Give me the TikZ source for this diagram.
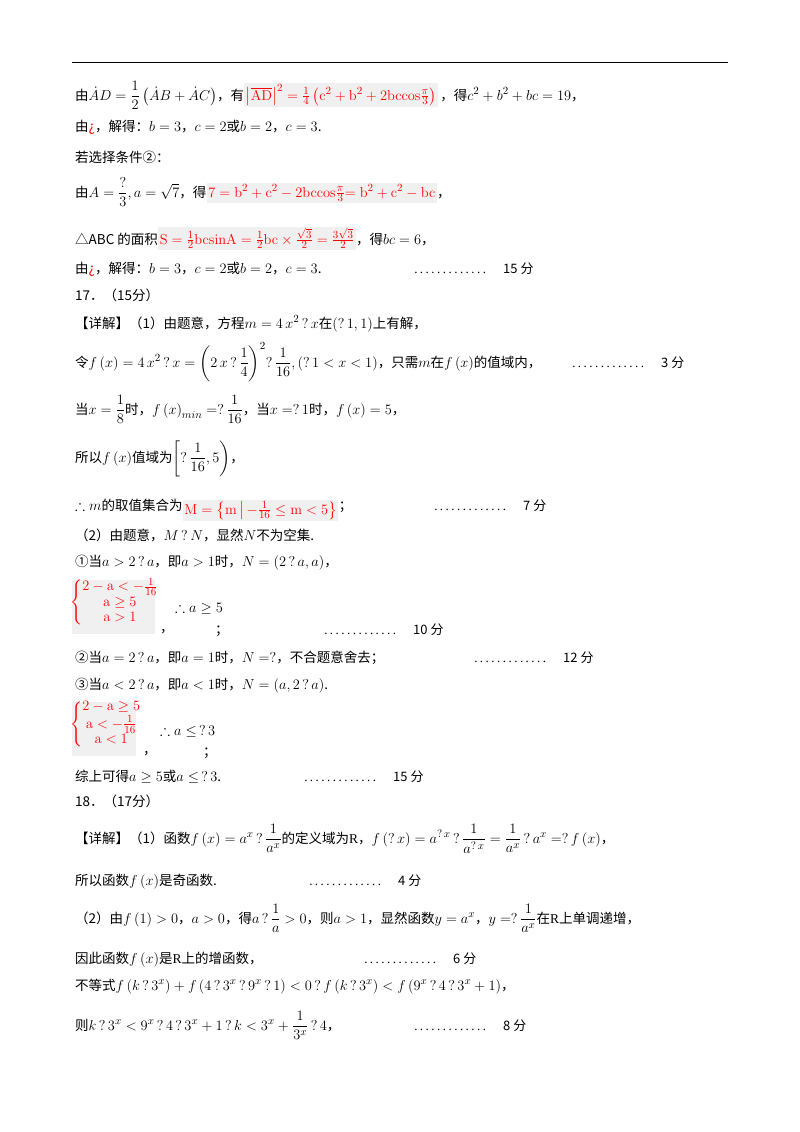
\documentclass[tikz,border=0pt]{standalone}
\usepackage[no-math]{fontspec}
\usepackage{amsmath,amssymb}
\setmainfont{Noto Sans CJK SC}
\newfontfamily\lib{Liberation Serif}
\DeclareMathSizes{13.5}{15}{11}{9}
\DeclareMathSizes{13}{14}{10}{8}
\begin{document}
\begin{tikzpicture}[x=1pt,y=-1pt,
  t/.style={anchor=base west,inner sep=0pt,font=\fontsize{13.5}{16}\selectfont},
  rb/.style={anchor=base west,inner sep=1.5pt,fill=gray!12,text=red,font=\fontsize{13.5}{16}\selectfont},
  dots/.style={anchor=base west,inner sep=0pt,font=\fontsize{13}{15}\selectfont}]
\useasboundingbox (0,0) rectangle (800,1132);
\fill[white] (0,0) rectangle (800,1132);
\newcommand\dd[1]{{\lib\makebox[80pt]{\dotfill}}\quad #1}
\coordinate (r1) at (72,63); \coordinate (r2) at (728,63);
\draw[line width=1pt] (r1) -- (r2);
\node[t] (l1) at (75,100) {由$\dot{A}D=\dfrac12\left(\dot{A}B+\dot{A}C\right)$，有};
\node[rb] (l1b) at (l1.base east) {$\left|\overline{\mathrm{AD}}\right|^2=\frac14\left(\mathrm{c^2+b^2+2bccos}\frac{\pi}{3}\right)$};
\node[t] (l1c) at ([xshift=2pt]l1b.base east) {，得$c^2+b^2+bc=19$，};
\node[t] (l2) at (75,131) {由{\color{red}¿}，解得：$b=3$，$c=2$或$b=2$，$c=3$.};
\node[t] (l3) at (75,162) {若选择条件②：};
\node[t] (l4) at (75,197) {由$A=\dfrac{?}{3},a=\sqrt7$，得};
\node[rb] (l4b) at (l4.base east) {$\mathrm{7=b^2+c^2-2bccos}\frac{\pi}{3}\mathrm{=b^2+c^2-bc}$};
\node[t] (l4c) at (l4b.base east) {，};
\node[t] (l5) at (75,244) {△ABC 的面积};
\node[rb] (l5b) at (l5.base east) {$\mathrm{S=\frac12bcsinA=\frac12bc\times\frac{\sqrt3}{2}=\frac{3\sqrt3}{2}}$};
\node[t] (l5c) at (l5b.base east) {，得$bc=6$，};
\node[t] (l6) at (75,273) {由{\color{red}¿}，解得：$b=3$，$c=2$或$b=2$，$c=3$.};
\node[dots] (d6) at (410,273) {\dd{15 分}};
\node[t] (l7) at (75,300) {17．（15分）};
\node[t] (l8) at (75,328) {【详解】（1）由题意，方程$m=4\,x^2\,?\,x$在$\left(?\,1,1\right)$上有解，};
\node[t] (l9) at (75,367) {令$f\left(x\right)=4\,x^2\,?\,x=\left(2\,x\,?\,\dfrac14\right)^2?\,\dfrac{1}{16},\left(?\,1<x<1\right)$，只需$m$在$f\left(x\right)$的值域内，};
\node[dots] (d9) at (568,367) {\dd{3 分}};
\node[t] (l10) at (75,414) {当$x=\dfrac18$时，$f\left(x\right)_{min}=?\,\dfrac1{16}$，当$x=?\,1$时，$f\left(x\right)=5$，};
\node[t] (l11) at (75,462) {所以$f\left(x\right)$值域为$\left[?\,\dfrac1{16},5\right)$，};
\node[t] (l12) at (75,510) {$\therefore m$的取值集合为};
\node[rb] (l12b) at ([yshift=-4pt]l12.base east) {$\mathrm{M=\left\{m\,\middle|\,-\frac1{16}\le m<5\right\}}$};
\node[t] (l12c) at ([yshift=4pt]l12b.base east) {；};
\node[dots] (d12) at (430,510) {\dd{7 分}};
\node[t] (l13) at (75,540) {（2）由题意，$M\,?\,N$，显然$N$不为空集.};
\node[t] (l14) at (75,566) {①当$a>2\,?\,a$，即$a>1$时，$N=\left(2\,?\,a,a\right)$，};
\node[rb,anchor=north west,inner sep=0pt,minimum width=83pt,minimum height=54pt] (c1) at (72,580) {};
\node[anchor=north west,inner sep=0pt,text=red,font=\fontsize{13.5}{16}\selectfont] (c1t) at (70,578) {$\left\{\renewcommand\arraystretch{0.95}\begin{array}{@{}c@{}}\mathrm{2-a<-\frac1{16}}\\ \mathrm{a\ge5}\\ \mathrm{a>1}\end{array}\right.$};
\node[t] (c1a) at (175,612) {$\therefore a\ge5$};
\node[t] (c1b) at (160,632) {，};
\node[t] (c1c) at (215,634) {；};
\node[dots] (d15) at (320,634) {\dd{10 分}};
\node[t] (l16) at (75,662) {②当$a=2\,?\,a$，即$a=1$时，$N=?$，不合题意舍去；};
\node[dots] (d16) at (470,662) {\dd{12 分}};
\node[t] (l17) at (75,689) {③当$a<2\,?\,a$，即$a<1$时，$N=\left(a,2\,?\,a\right)$.};
\node[rb,anchor=north west,inner sep=0pt,minimum width=64pt,minimum height=54pt] (c2) at (72,702) {};
\node[anchor=north west,inner sep=0pt,text=red,font=\fontsize{13.5}{16}\selectfont] (c2t) at (70,700) {$\left\{\renewcommand\arraystretch{0.95}\begin{array}{@{}c@{}}\mathrm{2-a\ge5}\\ \mathrm{a<-\frac1{16}}\\ \mathrm{a<1}\end{array}\right.$};
\node[t] (c2a) at (160,735) {$\therefore a\le\,?\,3$};
\node[t] (c2b) at (143,754) {，};
\node[t] (c2c) at (203,756) {；};
\node[t] (l18) at (75,781) {综上可得$a\ge5$或$a\le\,?\,3$.};
\node[dots] (d18) at (300,781) {\dd{15 分}};
\node[t] (l19) at (75,806) {18．（17分）};
\node[t] (l20) at (75,843) {【详解】（1）函数$f\left(x\right)=a^x\,?\,\dfrac1{a^x}$的定义域为{\lib R}，$f\left(?\,x\right)=a^{?\,x}\,?\,\dfrac1{a^{?\,x}}=\dfrac1{a^x}\,?\,a^x=?\,f\left(x\right)$，};
\node[t] (l21) at (75,885) {所以函数$f\left(x\right)$是奇函数.};
\node[dots] (d21) at (305,885) {\dd{4 分}};
\node[t] (l22) at (75,923) {（2）由$f\left(1\right)>0$，$a>0$，得$a\,?\,\dfrac1a>0$，则$a>1$，显然函数$y=a^x$，$y=?\,\dfrac1{a^x}$在{\lib R}上单调递增，};
\node[t] (l23) at (75,963) {因此函数$f\left(x\right)$是{\lib R}上的增函数，};
\node[dots] (d23) at (360,963) {\dd{6 分}};
\node[t] (l24) at (75,990) {不等式$f\left(k\,?\,3^x\right)+f\left(4\,?\,3^x\,?\,9^x\,?\,1\right)<0\,?\,f\left(k\,?\,3^x\right)<f\left(9^x\,?\,4\,?\,3^x+1\right)$，};
\node[t] (l25) at (75,1030) {则$k\,?\,3^x<9^x\,?\,4\,?\,3^x+1\,?\,k<3^x+\dfrac1{3^x}\,?\,4$，};
\node[dots] (d25) at (410,1030) {\dd{8 分}};
\end{tikzpicture}
\end{document}
